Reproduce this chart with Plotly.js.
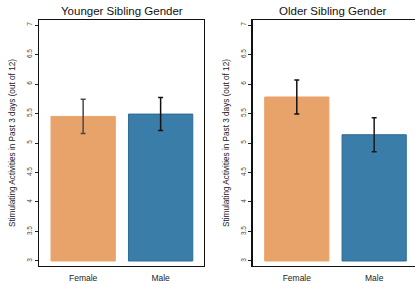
<!DOCTYPE html>
<html>
<head>
<meta charset="utf-8">
<script src="https://cdn.plot.ly/plotly-3.0.1.min.js"></script>
<style>
html,body{margin:0;padding:0;overflow:hidden;background:#fff;width:415px;height:283px;}
#chart{width:420px;height:283px;}
</style>
</head>
<body>
<div id="chart"></div>
<script>
const categories = ["Female", "Male"];
const youngerMeans = [5.45, 5.49];
const youngerErr = [0.29, 0.28];
const olderMeans = [5.78, 5.14];
const olderErr = [0.29, 0.29];
const panelTitles = ["Younger Sibling Gender", "Older Sibling Gender"];
const yTitle = "Stimulating Activities in Past 3 days (out of 12)";
const yTickVals = [3, 3.5, 4, 4.5, 5, 5.5, 6, 6.5, 7];
const yTickText = ["3", "3.5", "4", "4.5", "5", "5.5", "6", "6.5", "7"];
const baseline = 3;

const fillColors = ["#E8A36B", "#3A7DA8"];
const lineColors = ["#EBA266", "#2C6C96"];

function barTrace(means, errs, xa, ya) {
  return {
    type: "bar",
    x: categories,
    y: means.map(v => v - baseline),
    base: baseline,
    xaxis: xa, yaxis: ya,
    marker: {color: fillColors, line: {color: lineColors, width: 1}},
    hoverinfo: "skip",
    showlegend: false
  };
}
function errTrace(means, errs, xa, ya, colors) {
  // one error-bar trace per category so each can take its own colour
  return categories.map((c, i) => ({
    type: "scatter",
    mode: "markers",
    x: [c],
    y: [means[i]],
    xaxis: xa, yaxis: ya,
    marker: {size: 1, color: "rgba(0,0,0,0)"},
    error_y: {type: "data", array: [errs[i]], visible: true, color: colors[i], thickness: 1.5, width: 2.5},
    hoverinfo: "skip",
    showlegend: false
  }));
}

const data = [
  barTrace(youngerMeans, youngerErr, "x", "y"),
  barTrace(olderMeans, olderErr, "x2", "y2"),
  ...errTrace(youngerMeans, youngerErr, "x", "y", ["#4a4a4a", "#111"]),
  ...errTrace(olderMeans, olderErr, "x2", "y2", ["#111", "#1a1a1a"])
];

const W = 420, H = 283;
const yRange = [2.915, 7.085];
function yAxis(anchor) {
  return {
    anchor: anchor,
    domain: [0, 1],
    range: yRange,
    tickvals: yTickVals, ticktext: yTickText,
    tickangle: -90,
    ticks: "outside", ticklen: 3, tickwidth: 1, tickcolor: "#222",
    tickfont: {family: "Liberation Sans, Arial, sans-serif", size: 6.5, color: "#444"},
    showgrid: false, zeroline: false,
    showline: true, linecolor: "#111", linewidth: 1.3, mirror: true,
    title: {text: yTitle, font: {family: "Liberation Sans, Arial, sans-serif", size: 8.2, color: "#222"}, standoff: 9},
    automargin: false
  };
}
function xAxis(anchor, dom) {
  return {
    anchor: anchor,
    domain: dom,
    range: [-0.57, 1.56],
    type: "category",
    ticks: "",
    ticklabelstandoff: 3,
    tickfont: {family: "Liberation Sans, Arial, sans-serif", size: 8.5, color: "#222"},
    showgrid: false, zeroline: false,
    showline: true, linecolor: "#111", linewidth: 1.3, mirror: true,
    automargin: false
  };
}

const layout = {
  width: W, height: H,
  margin: {l: 0, r: 0, t: 20, b: 17, pad: 0},
  paper_bgcolor: "#fff", plot_bgcolor: "#fff",
  bargap: 0.17,
  showlegend: false,
  xaxis: xAxis("y", [39 / W, 204 / W]),
  yaxis: yAxis("x"),
  xaxis2: xAxis("y2", [252.7 / W, 417.5 / W]),
  yaxis2: yAxis("x2"),
  annotations: [
    {text: panelTitles[0], xref: "paper", yref: "paper", x: (39 + 204) / 2 / W, y: 1, yanchor: "bottom", xanchor: "center", yshift: 1, showarrow: false,
     font: {family: "Liberation Sans, Arial, sans-serif", size: 11.5, color: "#111"}},
    {text: panelTitles[1], xref: "paper", yref: "paper", x: 333 / W, y: 1, yanchor: "bottom", xanchor: "center", yshift: 1, showarrow: false,
     font: {family: "Liberation Sans, Arial, sans-serif", size: 11.5, color: "#111"}}
  ]
};

Plotly.newPlot("chart", data, layout, {displayModeBar: false, staticPlot: true});
</script>
</body>
</html>
